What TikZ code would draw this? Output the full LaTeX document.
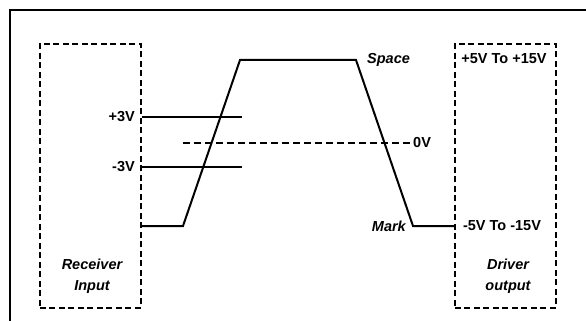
\documentclass[tikz,border=0pt]{standalone}
\usepackage{fontspec}
\setmainfont{Liberation Sans}
\usetikzlibrary{positioning}

\begin{document}
\begin{tikzpicture}[
  x=1pt, y=-1pt,
  font=\bfseries\fontsize{14.5}{21}\selectfont,
  frame/.style={draw=black, line width=2.2pt},
  side/.style={draw=black, line width=1.9pt, dash pattern=on 6pt off 3.5pt,
               anchor=north west, minimum width=101pt, minimum height=264pt, inner sep=0pt},
  wave/.style={draw=black, line width=2pt},
  level/.style={draw=black, line width=1.5pt},
  zero/.style={draw=black, line width=1.7pt, dash pattern=on 7pt off 4pt},
  lab/.style={inner sep=1pt},
  ilab/.style={lab, font=\bfseries\itshape\fontsize{14.5}{21}\selectfont, align=center}
]
\useasboundingbox (0,0) rectangle (586,321);
\fill[white] (0,0) rectangle (586,321);
\draw[frame] (10,330) -- (10,10) -- (600,10);

% receiver and driver boxes
\node[side] (rx) at (39,43) {};
\node[side] (tx) at (454,43) {};

% waveform
\coordinate (lo) at (rx.east |- 0,226);
\coordinate (r0) at (183,226);
\coordinate (r1) at (240,60);
\coordinate (f0) at (356,60);
\coordinate (f1) at (413,226);
\coordinate (hi) at (tx.west |- 0,226);
\draw[wave] (lo) -- (r0) -- (r1) -- (f0) -- (f1) -- (hi);

% thresholds
\coordinate (p3) at (rx.east |- 0,117);
\coordinate (m3) at (rx.east |- 0,167);
\draw[level] (p3) -- ++(100,0);
\draw[level] (m3) -- ++(100,0);
\coordinate (z0) at (183,143);
\coordinate (z1) at (412,143);
\draw[zero] (z0) -- (z1);

% labels
\node[lab, anchor=east] (lp3) at (136,117) {+3V};
\node[lab, anchor=east] (lm3) at (136,167) {-3V};
\node[lab, anchor=west] (l0) at (z1) {0V};
\node[ilab, anchor=west] (sp) at (366,60) {Space};
\node[ilab, anchor=east] (mk) at (407,226) {Mark};
\node[lab] (vp) at (504,59) {+5V To +15V};
\node[lab] (vm) at (502,226) {-5V To -15V};
\node[ilab] (ri) at (92,276) {Receiver\\Input};
\node[ilab] (dr) at (508,276) {Driver\\output};
\end{tikzpicture}
\end{document}
